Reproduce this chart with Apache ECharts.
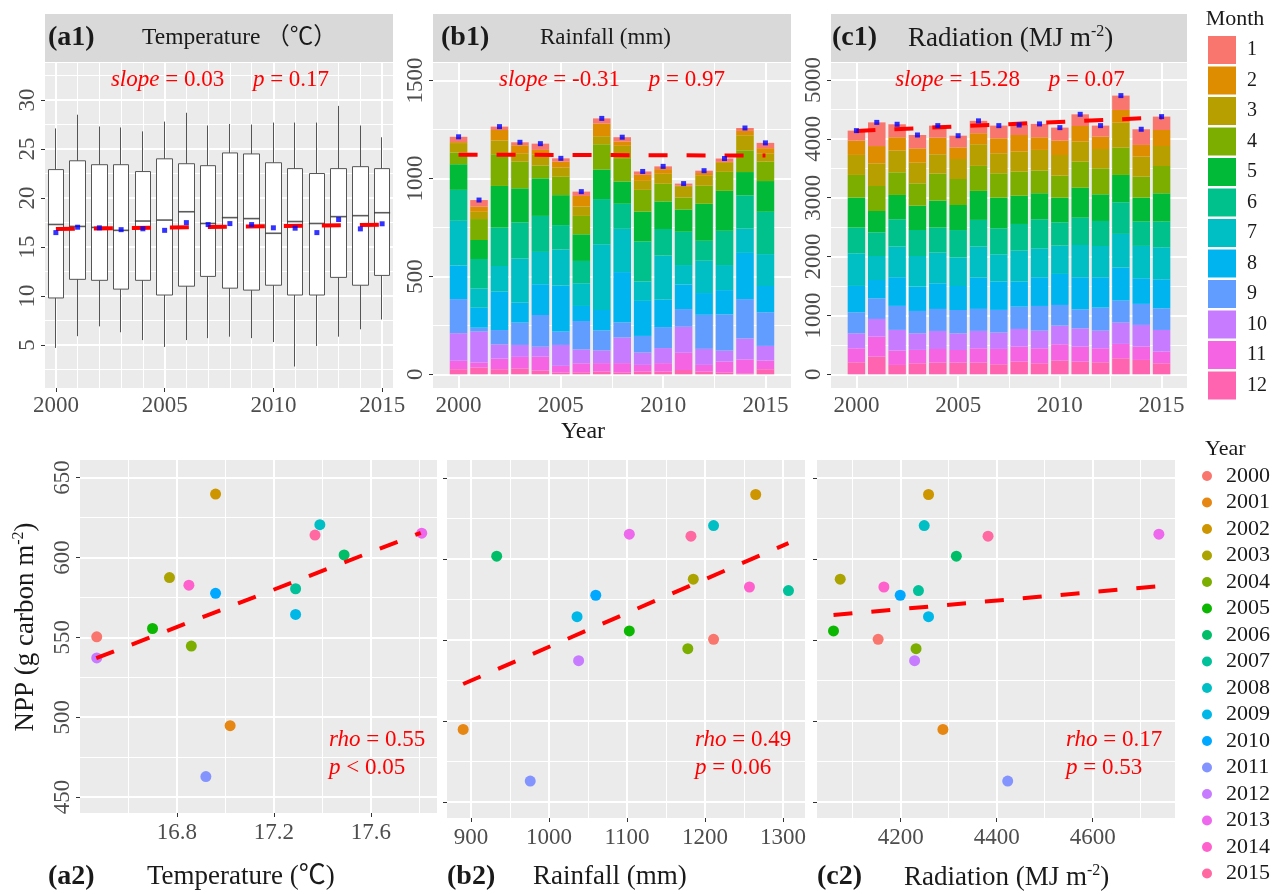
<!DOCTYPE html>
<html>
<head>
<meta charset="utf-8">
<script src="https://cdn.jsdelivr.net/npm/echarts@6.0.0/dist/echarts.min.js"></script>
<style>
html, body { margin: 0; padding: 0; background: #fff; }
#main { width: 1286px; height: 894px; }
</style>
</head>
<body>
<div id="main"></div>
<script>
// ---- data ----
const years = [2000, 2001, 2002, 2003, 2004, 2005, 2006, 2007, 2008, 2009, 2010, 2011, 2012, 2013, 2014, 2015];
const months = ['1', '2', '3', '4', '5', '6', '7', '8', '9', '10', '11', '12'];

// daily temperature box stats per year
const boxMin = [4.7, 5.9, 6.9, 6.3, 5.5, 4.8, 5.5, 5.7, 5.85, 5.7, 5.3, 2.8, 4.9, 5.85, 6.6, 7.6];
const boxQ1  = [9.8, 11.7, 11.6, 10.7, 11.6, 10.1, 11.0, 12.0, 10.8, 10.6, 11.1, 10.1, 10.1, 11.9, 11.1, 12.1];
const boxMed = [17.3, 17.1, 17.0, 16.7, 17.65, 17.75, 18.6, 17.4, 18.0, 17.9, 16.4, 17.6, 17.4, 18.1, 18.2, 18.5];
const boxQ3  = [22.9, 23.8, 23.4, 23.4, 22.7, 24.0, 23.5, 23.3, 24.6, 24.5, 23.6, 23.0, 22.5, 23.0, 23.2, 23.0];
const boxMax = [27.1, 28.5, 27.3, 27.2, 26.8, 27.8, 28.7, 27.4, 27.55, 27.5, 27.7, 27.7, 27.7, 29.4, 27.4, 26.2];

// annual means / totals used in the NPP scatter panels
const tempMean  = [16.47, 17.02, 16.96, 16.77, 16.86, 16.70, 17.49, 17.29, 17.39, 17.29, 16.96, 16.92, 16.47, 17.81, 16.85, 17.37];
const rainTotal = [1211, 890, 1265, 1185, 1178, 1103, 933, 1307, 1211, 1036, 1060, 976, 1038, 1103, 1257, 1182];
const radTotal  = [4153, 4288, 4258, 4074, 4232, 4060, 4316, 4237, 4249, 4258, 4199, 4423, 4229, 4738, 4165, 4382];
const npp       = [550.3, 494.7, 639.7, 587.4, 544.5, 555.5, 601.6, 580.4, 620.5, 564.3, 577.5, 462.8, 537.1, 615.2, 582.6, 614.0];

// monthly rainfall (mm), one row per year, Jan..Dec
const rainByYear = [
	[27, 5, 48, 60, 131, 158, 228, 172, 174, 141, 43, 26],
	[34, 26, 37, 107, 97, 150, 99, 102, 20, 158, 26, 34],
	[17, 54, 70, 162, 213, 196, 131, 196, 73, 73, 54, 26],
	[15, 41, 43, 136, 174, 184, 226, 102, 114, 61, 60, 29],
	[32, 22, 58, 65, 192, 184, 165, 157, 162, 51, 71, 19],
	[17, 29, 48, 94, 153, 124, 185, 235, 68, 107, 34, 9],
	[22, 54, 48, 94, 136, 114, 116, 77, 145, 71, 46, 10],
	[26, 65, 41, 129, 151, 231, 335, 105, 102, 65, 43, 14],
	[22, 22, 63, 119, 114, 128, 221, 257, 77, 131, 48, 9],
	[17, 31, 46, 111, 153, 204, 99, 179, 85, 63, 34, 14],
	[14, 24, 51, 90, 141, 136, 225, 140, 107, 77, 43, 14],
	[10, 3, 58, 61, 114, 170, 99, 126, 90, 133, 88, 22],
	[12, 14, 51, 92, 189, 102, 165, 111, 174, 82, 34, 14],
	[17, 5, 46, 97, 204, 175, 128, 124, 185, 56, 56, 9],
	[15, 22, 77, 111, 119, 170, 124, 236, 201, 107, 71, 5],
	[27, 26, 43, 99, 157, 216, 163, 134, 172, 75, 44, 26]
];

// monthly radiation (MJ m-2), one row per year, Jan..Dec
const radByYear = [
	[170, 243, 340, 385, 510, 436, 555, 447, 357, 255, 238, 204],
	[402, 294, 385, 425, 362, 402, 408, 311, 351, 300, 340, 300],
	[221, 227, 368, 385, 413, 464, 521, 487, 408, 351, 244, 159],
	[227, 244, 351, 379, 413, 442, 521, 413, 379, 283, 227, 187],
	[204, 283, 328, 459, 459, 425, 521, 436, 374, 306, 232, 198],
	[198, 198, 340, 442, 425, 464, 487, 408, 396, 283, 215, 198],
	[210, 187, 368, 425, 493, 453, 527, 532, 374, 295, 244, 198],
	[215, 255, 340, 413, 521, 442, 464, 481, 385, 278, 261, 170],
	[170, 283, 340, 408, 481, 453, 527, 425, 379, 300, 255, 215],
	[227, 215, 351, 385, 442, 493, 493, 487, 419, 300, 255, 187],
	[221, 244, 351, 374, 419, 396, 481, 527, 351, 317, 278, 232],
	[198, 266, 340, 442, 510, 464, 549, 544, 323, 311, 255, 215],
	[187, 210, 328, 442, 453, 425, 532, 515, 391, 300, 238, 204],
	[244, 215, 425, 464, 464, 538, 572, 561, 374, 362, 244, 272],
	[266, 198, 340, 357, 408, 413, 549, 436, 357, 368, 227, 244],
	[227, 272, 340, 464, 481, 436, 544, 493, 368, 368, 198, 187]
];

// fitted trend lines (end points)
const trendYears = [2000, 2015];
const tempTrend = [16.84, 17.28];
const rainTrend = [1122, 1117];
const radTrend = [4135, 4365];
const fitTempX = [16.468, 17.806], fitTempY = [536.9, 615.4];
const fitRainX = [890, 1307], fitRainY = [522.7, 609.7];
const fitRadX = [4060, 4738], fitRadY = [565.3, 583.1];

// axis ticks
const xTicksYear = [2000, 2005, 2010, 2015];
const yTicksTemp = [5, 10, 15, 20, 25, 30];
const yTicksRain = [0, 500, 1000, 1500];
const yTicksRad = [0, 1000, 2000, 3000, 4000, 5000];
const xTicksTemp = [16.8, 17.2, 17.6];
const xTicksRain = [900, 1000, 1100, 1200, 1300];
const xTicksRad = [4200, 4400, 4600];
const yTicksNpp = [450, 500, 550, 600, 650];

// ---- styles ----
const FONT = "'Liberation Serif', 'Noto Sans CJK SC', serif";
const GRAY = '#4D4D4D';
const monthColors = ['#F8766D', '#DE8C00', '#B79F00', '#7CAE00', '#00BA38', '#00C08B', '#00BFC4', '#00B4F0', '#619CFF', '#C77CFF', '#F564E3', '#FF64B0'];
const yearColors = ['#F8766D', '#E68613', '#CD9600', '#ABA300', '#7CAE00', '#0CB702', '#00BE67', '#00C19A', '#00BFC4', '#00B8E7', '#00A9FF', '#8494FF', '#C77CFF', '#ED68ED', '#FF61CC', '#FF68A1'];
const trendStyle = { color: '#FF0000', width: 4, type: [19, 19] };
const BAR_HALF = 0.43; // half bar width in years

var chart = echarts.init(document.getElementById('main'));

var grids = [
	{ left: 45, top: 63, width: 348, height: 325 },
	{ left: 433, top: 63, width: 358, height: 325 },
	{ left: 831, top: 63, width: 356, height: 325 },
	{ left: 80, top: 460, width: 357, height: 353 },
	{ left: 447, top: 460, width: 358, height: 358 },
	{ left: 817, top: 460, width: 358, height: 358 }
].map(g => Object.assign({ show: true, backgroundColor: '#EBEBEB', borderWidth: 0 }, g));

function valAxis(gi, min, max, ticks, showLabel, isY, margin) {
	return {
		type: 'value', gridIndex: gi, min: min, max: max,
		axisLine: { show: false },
		axisTick: { show: true, length: 4, lineStyle: { color: '#333' }, customValues: ticks },
		axisLabel: {
			show: showLabel, customValues: ticks, margin: margin, rotate: isY ? 90 : 0,
			fontSize: 23, color: GRAY, fontFamily: FONT,
			formatter: v => String(v)
		},
		splitLine: { show: false },
		minorSplitLine: { show: false }
	};
}

// panel grid lines drawn as mark lines so they follow ggplot breaks
function gridLines(gi, vMaj, vMin, hMaj, hMin) {
	var maj = { color: '#FFFFFF', width: 2, type: 'solid' };
	var mnr = { color: '#FFFFFF', width: 1, type: 'solid' };
	var d = [];
	vMin.forEach(v => d.push({ xAxis: v, lineStyle: mnr }));
	hMin.forEach(v => d.push({ yAxis: v, lineStyle: mnr }));
	vMaj.forEach(v => d.push({ xAxis: v, lineStyle: maj }));
	hMaj.forEach(v => d.push({ yAxis: v, lineStyle: maj }));
	return {
		type: 'line', name: 'grid' + gi, xAxisIndex: gi, yAxisIndex: gi, data: [],
		silent: true, z: 1,
		markLine: { silent: true, z: 1, symbol: ['none', 'none'], animation: false, label: { show: false }, data: d }
	};
}

// one stacked segment: value(0)=year, value(1)=bottom, value(2)=top
function stackRect(params, api) {
	var x = api.value(0);
	var p0 = api.coord([x - BAR_HALF, api.value(2)]);
	var p1 = api.coord([x + BAR_HALF, api.value(1)]);
	return {
		type: 'rect',
		shape: { x: p0[0], y: p0[1], width: p1[0] - p0[0], height: p1[1] - p0[1] },
		style: { fill: api.visual('color') }
	};
}

function stackedSeries(gi, byYear) {
	var base = years.map(() => 0);
	var out = [];
	for (var m = 11; m >= 0; m--) {
		var data = years.map(function (y, i) {
			var b = base[i];
			base[i] += byYear[i][m];
			return [y, b, base[i]];
		});
		out.push({
			type: 'custom', name: months[m], xAxisIndex: gi, yAxisIndex: gi, silent: true, z: 2,
			itemStyle: { color: monthColors[m] }, encode: { x: 0, y: [1, 2] },
			renderItem: stackRect, data: data
		});
	}
	return out;
}

var yearStr = years.map(String);
var xAxes = [
	{
		type: 'category', gridIndex: 0, data: yearStr, boundaryGap: true,
		axisLine: { show: false },
		axisTick: { show: true, alignWithLabel: true, interval: (i) => i % 5 === 0, length: 4, lineStyle: { color: '#333' } },
		axisLabel: { interval: (i) => i % 5 === 0, margin: 6, fontSize: 23, color: GRAY, fontFamily: FONT },
		splitLine: { show: false }
	},
	valAxis(1, 1998.75, 2016.25, xTicksYear, true, false, 6),
	valAxis(2, 1998.75, 2016.25, xTicksYear, true, false, 6),
	valAxis(3, 16.401, 17.873, xTicksTemp, true, false, 8),
	valAxis(4, 869.3, 1328.2, xTicksRain, true, false, 8),
	valAxis(5, 4025.6, 4771.6, xTicksRad, true, false, 8)
];
var yAxes = [
	valAxis(0, 0.61, 33.78, yTicksTemp, true, true, 6),
	valAxis(1, -70, 1590, yTicksRain, true, true, 6),
	valAxis(2, -233, 5289, yTicksRad, true, true, 6),
	valAxis(3, 440, 661, yTicksNpp, true, true, 6),
	valAxis(4, 440, 661, yTicksNpp, false, true, 6),
	valAxis(5, 440, 661, yTicksNpp, false, true, 6)
];

var series = [];
series.push(gridLines(0, ['2000', '2005', '2010', '2015'],
	yearStr.filter((y, i) => i % 5 !== 0), yTicksTemp, [2.5, 7.5, 12.5, 17.5, 22.5, 27.5, 32.5]));
series.push(gridLines(1, xTicksYear, [2002.5, 2007.5, 2012.5], yTicksRain, [250, 750, 1250]));
series.push(gridLines(2, xTicksYear, [2002.5, 2007.5, 2012.5], yTicksRad, [500, 1500, 2500, 3500, 4500]));
series.push(gridLines(3, xTicksTemp, [16.6, 17.0, 17.4, 17.8], yTicksNpp, [475, 525, 575, 625]));
series.push(gridLines(4, xTicksRain, [950, 1050, 1150, 1250], yTicksNpp, [475, 525, 575, 625]));
series.push(gridLines(5, xTicksRad, [4100, 4300, 4500, 4700], yTicksNpp, [475, 525, 575, 625]));

// (a1) box: Q1..Q3 with whiskers, median bar, mean dot, trend
series.push({
	type: 'candlestick', name: 'box', xAxisIndex: 0, yAxisIndex: 0, barWidth: 16, silent: true, z: 2,
	data: years.map((y, i) => [boxQ1[i], boxQ3[i], boxMin[i], boxMax[i]]),
	itemStyle: { color: '#FFFFFF', color0: '#FFFFFF', borderColor: '#555555', borderColor0: '#555555', borderWidth: 1 }
});
series.push({
	type: 'scatter', name: 'median', xAxisIndex: 0, yAxisIndex: 0, silent: true, z: 3,
	symbol: 'rect', symbolSize: [16, 1.6],
	data: yearStr.map((y, i) => [y, boxMed[i]]),
	itemStyle: { color: '#333333' }
});
series.push({
	type: 'line', name: 'trendA1', xAxisIndex: 0, yAxisIndex: 0, silent: true, z: 4,
	symbol: 'none', data: trendYears.map((y, i) => [String(y), tempTrend[i]]), lineStyle: trendStyle
});
series.push({
	type: 'scatter', name: 'meanA1', xAxisIndex: 0, yAxisIndex: 0, silent: true, z: 5,
	symbol: 'rect', symbolSize: 5, data: yearStr.map((y, i) => [y, tempMean[i]]), itemStyle: { color: '#0000FF' }
});

// (b1), (c1) stacked monthly bars, month 12 at the bottom
series = series.concat(stackedSeries(1, rainByYear), stackedSeries(2, radByYear));
var rainSum = rainByYear.map(r => r.reduce((a, b) => a + b, 0));
var radSum = radByYear.map(r => r.reduce((a, b) => a + b, 0));
[[1, rainTrend, rainSum], [2, radTrend, radSum]].forEach(function (p) {
	series.push({
		type: 'line', name: 'trend' + p[0], xAxisIndex: p[0], yAxisIndex: p[0], silent: true, z: 4,
		symbol: 'none', data: trendYears.map((y, i) => [y, p[1][i]]), lineStyle: trendStyle
	});
	series.push({
		type: 'scatter', name: 'total' + p[0], xAxisIndex: p[0], yAxisIndex: p[0], silent: true, z: 5,
		symbol: 'rect', symbolSize: 5, data: years.map((y, i) => [y, p[2][i]]), itemStyle: { color: '#0000FF' }
	});
});

// (a2), (b2), (c2) NPP scatter by year
var drivers = [tempMean, rainTotal, radTotal];
years.forEach(function (y, i) {
	drivers.forEach(function (xs, k) {
		series.push({
			type: 'scatter', name: String(y), xAxisIndex: 3 + k, yAxisIndex: 3 + k, silent: true, z: 3,
			symbolSize: 11, data: [[xs[i], npp[i]]], itemStyle: { color: yearColors[i], opacity: 1 }
		});
	});
});
[[3, fitTempX, fitTempY], [4, fitRainX, fitRainY], [5, fitRadX, fitRadY]].forEach(function (p) {
	series.push({
		type: 'line', name: 'fit' + p[0], xAxisIndex: p[0], yAxisIndex: p[0], silent: true, z: 4,
		symbol: 'none', data: p[1].map((x, i) => [x, p[2][i]]), lineStyle: trendStyle
	});
});

// ---- text ----
function txt(x, y, text, size, opt) {
	var style = Object.assign({
		text: text, fontSize: size, fontFamily: FONT, fill: '#1A1A1A',
		align: 'left', verticalAlign: 'middle', textAlign: 'left', textVerticalAlign: 'middle'
	}, opt || {});
	return { type: 'text', x: x, y: y, silent: true, z: 10, style: style };
}
function redRich(size) {
	return {
		i: { fontStyle: 'italic', fontSize: size, fontFamily: FONT, fill: '#FF0000', color: '#FF0000' },
		n: { fontSize: size, fontFamily: FONT, fill: '#FF0000', color: '#FF0000' }
	};
}
function supRich(size) {
	return {
		n: { fontSize: size, fontFamily: FONT, fill: '#1A1A1A', lineHeight: size + 2, verticalAlign: 'bottom' },
		s: { fontSize: Math.round(size * 0.6), fontFamily: FONT, fill: '#1A1A1A', verticalAlign: 'top', lineHeight: size + 2 }
	};
}
var center = { align: 'center', textAlign: 'center' };

var graphics = [];
// strips
[[45, 348], [433, 358], [831, 356]].forEach(function (s) {
	graphics.push({ type: 'rect', silent: true, z: 0, shape: { x: s[0], y: 14, width: s[1], height: 48 }, style: { fill: '#D9D9D9' } });
});
graphics.push(txt(48, 38, '(a1)', 28, { fontWeight: 'bold' }));
graphics.push(txt(142, 38, 'Temperature （℃）', 23.5));
graphics.push(txt(441, 38, '(b1)', 28, { fontWeight: 'bold' }));
graphics.push(txt(540, 38, 'Rainfall (mm)', 23));
graphics.push(txt(832, 38, '(c1)', 28, { fontWeight: 'bold' }));
graphics.push(txt(908, 38, '{n|Radiation (MJ m}{s|-2}{n|)}', 27, { rich: supRich(27) }));

// slope annotations
graphics.push(txt(220, 80, '{i|slope}{n| = 0.03     }{i|p}{n| = 0.17}', 23, Object.assign({ rich: redRich(23), fill: '#FF0000' }, center)));
graphics.push(txt(612, 80, '{i|slope}{n| = -0.31     }{i|p}{n| = 0.97}', 23, Object.assign({ rich: redRich(23), fill: '#FF0000' }, center)));
graphics.push(txt(1010, 80, '{i|slope}{n| = 15.28     }{i|p}{n| = 0.07}', 23, Object.assign({ rich: redRich(23), fill: '#FF0000' }, center)));

// rho annotations
[[329, '0.55', '{i|p}{n| < 0.05}'], [695, '0.49', '{i|p}{n| = 0.06}'], [1066, '0.17', '{i|p}{n| = 0.53}']].forEach(function (r) {
	graphics.push(txt(r[0], 740, '{i|rho}{n| = ' + r[1] + '}', 23, { rich: redRich(23), fill: '#FF0000' }));
	graphics.push(txt(r[0], 768, r[2], 23, { rich: redRich(23), fill: '#FF0000' }));
});

// axis titles
graphics.push(txt(583, 432, 'Year', 24, center));
graphics.push(txt(48, 877, '(a2)', 28, { fontWeight: 'bold' }));
graphics.push(txt(147, 877, 'Temperature (℃)', 27));
graphics.push(txt(447, 877, '(b2)', 28, { fontWeight: 'bold' }));
graphics.push(txt(533, 877, 'Rainfall (mm)', 27));
graphics.push(txt(817, 877, '(c2)', 28, { fontWeight: 'bold' }));
graphics.push(txt(904, 877, '{n|Radiation (MJ m}{s|-2}{n|)}', 27, { rich: supRich(27) }));
var yTitle = txt(0, 0, '{n|NPP (g carbon m}{s|-2}{n|)}', 27, Object.assign({ rich: supRich(27) }, center));
yTitle.x = 25; yTitle.y = 627; yTitle.rotation = Math.PI / 2;
graphics.push(yTitle);

// legend titles
graphics.push(txt(1235, 19, 'Month', 22, center));
graphics.push(txt(1205, 449, 'Year', 22));

chart.setOption({
	animation: false,
	textStyle: { fontFamily: FONT },
	grid: grids,
	xAxis: xAxes,
	yAxis: yAxes,
	legend: [
		{
			data: months, orient: 'vertical', left: 1208, top: 36, padding: 0,
			itemWidth: 28, itemHeight: 28, itemGap: 2.5, icon: 'rect', selectedMode: false,
			textStyle: { fontSize: 20, fontFamily: FONT, color: '#1A1A1A', lineHeight: 20, padding: [0, 0, 0, 6] }
		},
		{
			data: yearStr, orient: 'vertical', left: 1202, top: 465, padding: 0,
			itemWidth: 10, itemHeight: 10, itemGap: 4.5, icon: 'circle', selectedMode: false,
			textStyle: { fontSize: 22, fontFamily: FONT, color: '#1A1A1A', lineHeight: 22, padding: [0, 0, 0, 9] }
		}
	],
	graphic: graphics,
	series: series
});
</script>
</body>
</html>
